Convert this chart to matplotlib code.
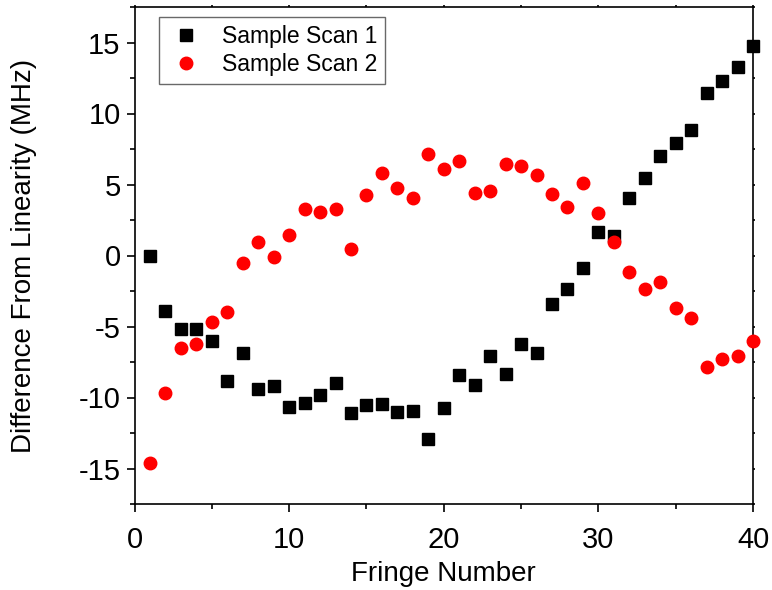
import matplotlib
matplotlib.use("Agg")
import matplotlib.pyplot as plt
from matplotlib.ticker import MultipleLocator

plt.rcParams['font.family'] = ['Liberation Sans', 'DejaVu Sans']
plt.rcParams['axes.unicode_minus'] = False

fringe = list(range(1, 41))
scan1 = [0.0, -3.92, -5.2, -5.15, -6.0, -8.84, -6.85, -9.38, -9.19, -10.64,
         -10.36, -9.82, -8.95, -11.06, -10.5, -10.43, -11.02, -10.95, -12.94, -10.71,
         -8.39, -9.14, -7.06, -8.37, -6.21, -6.89, -3.45, -2.39, -0.87, 1.69,
         1.36, 4.08, 5.44, 6.98, 7.92, 8.86, 11.44, 12.28, 13.27, 14.72]
scan2 = [-14.58, -9.7, -6.54, -6.26, -4.69, -3.99, -0.52, 0.96, -0.12, 1.45,
         3.28, 3.05, 3.28, 0.49, 4.29, 5.81, 4.73, 4.03, 7.17, 6.07,
         6.68, 4.41, 4.55, 6.42, 6.28, 5.65, 4.34, 3.42, 5.08, 3.0,
         0.94, -1.17, -2.34, -1.9, -3.71, -4.41, -7.88, -7.29, -7.1, -6.03]

fig = plt.figure(figsize=(7.72, 5.90), dpi=100)
ax = fig.add_axes([134.5 / 772, 1 - 504 / 590, (753 - 134.5) / 772, (504 - 7) / 590])

ax.plot(fringe, scan1, linestyle='none', marker='s', markersize=8,
        color='black', label='Sample Scan 1', clip_on=False, zorder=3)
ax.plot(fringe, scan2, linestyle='none', marker='o', markersize=9,
        color='red', markeredgecolor='red', label='Sample Scan 2', clip_on=False, zorder=3)

ax.set_xlim(0, 40)
ax.set_ylim(-17.5, 17.5)
ax.xaxis.set_major_locator(MultipleLocator(10))
ax.xaxis.set_minor_locator(MultipleLocator(5))
ax.yaxis.set_major_locator(MultipleLocator(5))
ax.yaxis.set_minor_locator(MultipleLocator(2.5))

for s in ax.spines.values():
    s.set_linewidth(1.2)

ax.tick_params(axis='both', which='major', direction='out', length=6, width=1.2,
               labelsize=21)
ax.tick_params(axis='x', which='major', pad=10)
ax.tick_params(axis='y', which='major', pad=4)
ax.tick_params(axis='both', which='minor', direction='out', length=3.5, width=1.2)
ax.tick_params(top=True, right=True, which='both')
for t in (ax.xaxis.get_major_ticks() + ax.xaxis.get_minor_ticks()
          + ax.yaxis.get_major_ticks() + ax.yaxis.get_minor_ticks()):
    t.tick2line.set_markersize(1.5)

ax.set_xlabel('Fringe Number', fontsize=20)
ax.set_ylabel('Difference From Linearity (MHz)', fontsize=20)
ax.xaxis.set_label_coords(0.5, -0.115)
ax.yaxis.set_label_coords(-0.179, 0.5)
ax.yaxis.label.set_va('center')

leg = ax.legend(loc='upper left', bbox_to_anchor=(0.0396, 0.98), borderaxespad=0,
                fontsize=16.5, frameon=True, fancybox=False, edgecolor='#444444',
                borderpad=0.35, labelspacing=0.2, handlelength=1.7,
                handletextpad=0.7, numpoints=1)
leg.get_frame().set_linewidth(1.0)

fig.savefig('out.png', dpi=100)
